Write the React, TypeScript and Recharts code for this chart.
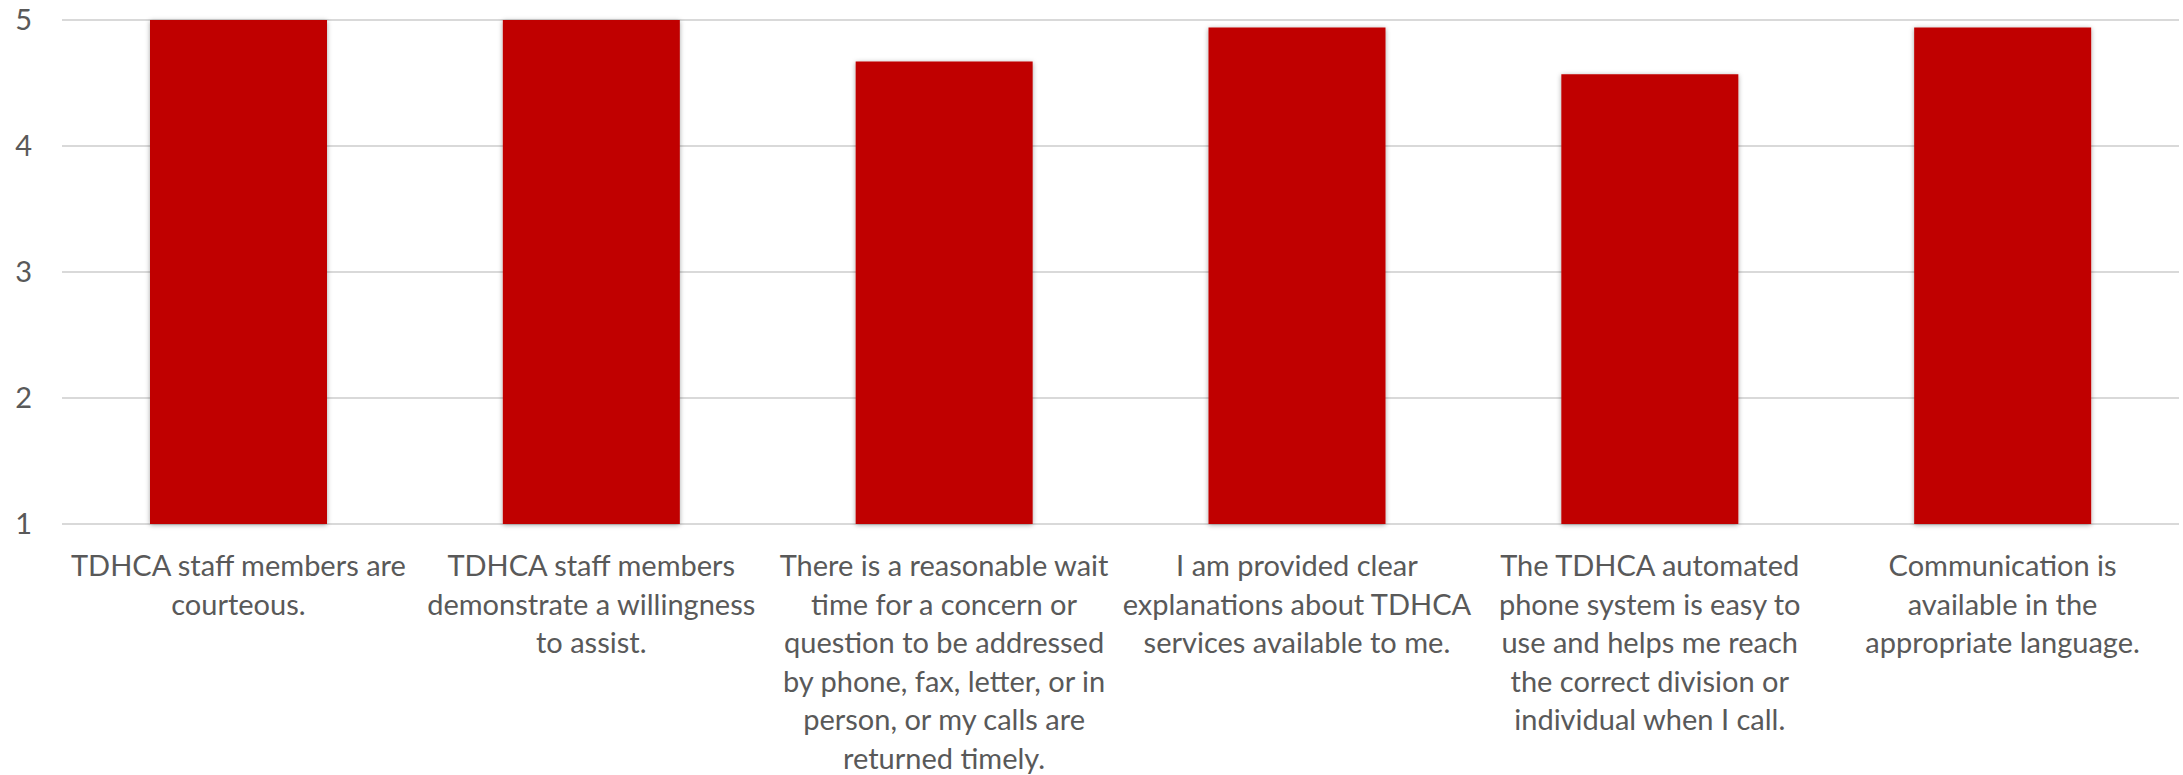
import { BarChart, Bar, XAxis, YAxis, CartesianGrid } from "recharts";

const labelLines: string[][] = [
  ["TDHCA staff members are", "courteous."],
  ["TDHCA staff members", "demonstrate a willingness", "to assist."],
  [
    "There is a reasonable wait",
    "time for a concern or",
    "question to be addressed",
    "by phone, fax, letter, or in",
    "person, or my calls are",
    "returned timely.",
  ],
  ["I am provided clear", "explanations about TDHCA", "services available to me."],
  [
    "The TDHCA automated",
    "phone system is easy to",
    "use and helps me reach",
    "the correct division or",
    "individual when I call.",
  ],
  ["Communication is", "available in the", "appropriate language."],
];

const categories = labelLines.map((lines) => lines.join(" "));
const scores = [5, 5, 4.67, 4.94, 4.57, 4.94];
const yTicks = [1, 2, 3, 4, 5];

const data = categories.map((name, i) => ({ name, score: scores[i] }));

const FONT = "Lato, 'Open Sans', sans-serif";
const TEXT = "#595959";

function CategoryTick(props: any) {
  const { x, y, index } = props;
  const lines = labelLines[index] ?? [];
  return (
    <text x={x} y={y + 52} textAnchor="middle" fill={TEXT} fontFamily={FONT} fontSize={29}>
      {lines.map((line, i) => (
        <tspan key={i} x={x} dy={i === 0 ? 0 : 38.6}>
          {line}
        </tspan>
      ))}
    </text>
  );
}

function ValueTick(props: any) {
  const { y, payload } = props;
  return (
    <text x={32} y={y + 10} textAnchor="end" fill={TEXT} fontFamily={FONT} fontSize={29}>
      {payload.value}
    </text>
  );
}

export default function App() {
  return (
    <div style={{ position: "absolute", left: 0, top: 0, background: "#fff" }}>
      <BarChart
        width={2183}
        height={775}
        data={data}
        margin={{ top: 20, right: 4, bottom: 0, left: 0 }}
      >
        <defs>
          <filter id="barShadow" x="-10%" y="-10%" width="120%" height="120%">
            <feDropShadow dx="0" dy="1" stdDeviation="2.5" floodColor="#000" floodOpacity="0.35" />
          </filter>
        </defs>
        <CartesianGrid vertical={false} stroke="#d9d9d9" strokeWidth={2} />
        <XAxis
          dataKey="name"
          height={251}
          axisLine={false}
          tickLine={false}
          tickSize={0}
          tickMargin={0}
          interval={0}
          tick={<CategoryTick />}
        />
        <YAxis
          width={62}
          domain={[1, 5]}
          ticks={yTicks}
          axisLine={false}
          tickLine={false}
          tickSize={0}
          tick={<ValueTick />}
        />
        <Bar dataKey="score" fill="#c00000" barSize={177} filter="url(#barShadow)" isAnimationActive={false} />
      </BarChart>
    </div>
  );
}
